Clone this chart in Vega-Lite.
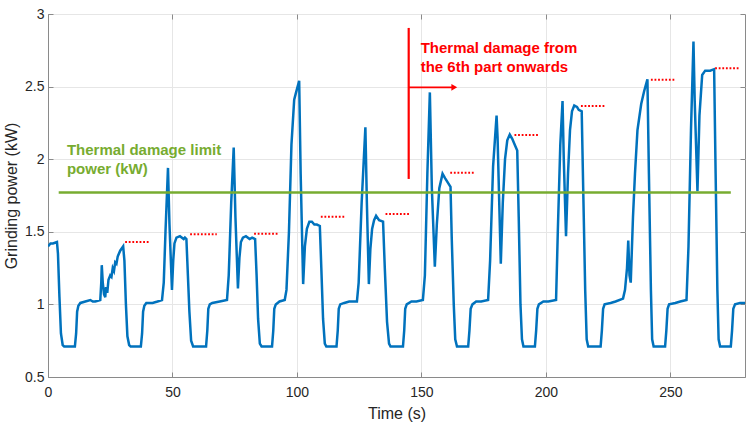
{
  "$schema": "https://vega.github.io/schema/vega-lite/v6.json",
  "width": 697,
  "height": 363,
  "autosize": {"type": "none"},
  "padding": {"left": 48, "top": 14, "right": 4, "bottom": 48},
  "background": "white",
  "config": {
    "font": "Liberation Sans",
    "view": {"stroke": "#8a8a8a", "strokeWidth": 1},
    "axis": {
      "labelFont": "Liberation Sans",
      "titleFont": "Liberation Sans",
      "labelFontSize": 14,
      "titleFontSize": 16,
      "titleFontWeight": "normal",
      "labelColor": "#262626",
      "titleColor": "#262626",
      "domainColor": "#8a8a8a",
      "tickColor": "#8a8a8a",
      "gridColor": "#e6e6e6",
      "gridWidth": 1
    }
  },
  "datasets": {
    "power": [
      {"t": 0, "p": 1.40}, {"t": 1, "p": 1.42}, {"t": 2, "p": 1.42}, {"t": 3.6, "p": 1.43},
      {"t": 4.0, "p": 1.35}, {"t": 4.6, "p": 1.05}, {"t": 5.2, "p": 0.80}, {"t": 5.9, "p": 0.72},
      {"t": 6.5, "p": 0.71}, {"t": 10.8, "p": 0.71}, {"t": 11.3, "p": 0.80}, {"t": 11.7, "p": 0.95},
      {"t": 12.2, "p": 0.99}, {"t": 13, "p": 1.01}, {"t": 15, "p": 1.02}, {"t": 17, "p": 1.03},
      {"t": 18, "p": 1.02}, {"t": 19, "p": 1.02}, {"t": 21, "p": 1.03}, {"t": 21.4, "p": 1.15},
      {"t": 21.6, "p": 1.27}, {"t": 22.0, "p": 1.15}, {"t": 22.5, "p": 1.07}, {"t": 23.0, "p": 1.05},
      {"t": 23.3, "p": 1.12}, {"t": 23.8, "p": 1.08}, {"t": 24.3, "p": 1.17}, {"t": 25.0, "p": 1.20},
      {"t": 25.5, "p": 1.19}, {"t": 26.0, "p": 1.25}, {"t": 26.5, "p": 1.23}, {"t": 27, "p": 1.29},
      {"t": 27.5, "p": 1.28}, {"t": 28, "p": 1.33}, {"t": 29, "p": 1.37}, {"t": 30.2, "p": 1.40},
      {"t": 30.7, "p": 1.30}, {"t": 31.3, "p": 1.00}, {"t": 31.9, "p": 0.78}, {"t": 32.6, "p": 0.72},
      {"t": 33.2, "p": 0.71}, {"t": 37.3, "p": 0.71}, {"t": 37.8, "p": 0.80}, {"t": 38.2, "p": 0.95},
      {"t": 38.7, "p": 0.99}, {"t": 39.5, "p": 1.01}, {"t": 42, "p": 1.01}, {"t": 44, "p": 1.02},
      {"t": 45.8, "p": 1.03}, {"t": 46.5, "p": 1.15}, {"t": 47.2, "p": 1.50}, {"t": 48.2, "p": 1.94},
      {"t": 48.8, "p": 1.55}, {"t": 49.8, "p": 1.10}, {"t": 50.3, "p": 1.30}, {"t": 50.8, "p": 1.42},
      {"t": 51.6, "p": 1.46}, {"t": 53, "p": 1.47}, {"t": 54.5, "p": 1.45}, {"t": 55.0, "p": 1.46},
      {"t": 55.6, "p": 1.45}, {"t": 56.2, "p": 1.20}, {"t": 56.8, "p": 0.95}, {"t": 57.5, "p": 0.75},
      {"t": 58.3, "p": 0.71}, {"t": 63.5, "p": 0.71}, {"t": 64, "p": 0.82}, {"t": 64.4, "p": 0.97},
      {"t": 65, "p": 1.00}, {"t": 66, "p": 1.01}, {"t": 69, "p": 1.02}, {"t": 71.9, "p": 1.03},
      {"t": 72.6, "p": 1.20}, {"t": 73.6, "p": 1.70}, {"t": 74.6, "p": 2.08}, {"t": 75.3, "p": 1.60},
      {"t": 76.3, "p": 1.11}, {"t": 76.9, "p": 1.32}, {"t": 77.5, "p": 1.43}, {"t": 78.3, "p": 1.46},
      {"t": 79.5, "p": 1.47}, {"t": 81, "p": 1.45}, {"t": 82, "p": 1.46}, {"t": 83.2, "p": 1.45},
      {"t": 83.8, "p": 1.20}, {"t": 84.4, "p": 0.90}, {"t": 85.1, "p": 0.73}, {"t": 85.8, "p": 0.71},
      {"t": 90, "p": 0.71}, {"t": 90.5, "p": 0.82}, {"t": 90.9, "p": 0.97}, {"t": 91.5, "p": 1.00},
      {"t": 93, "p": 1.02}, {"t": 95.1, "p": 1.03}, {"t": 95.8, "p": 1.10}, {"t": 96.8, "p": 1.50},
      {"t": 97.8, "p": 2.10}, {"t": 98.9, "p": 2.41}, {"t": 99.5, "p": 2.45}, {"t": 100.9, "p": 2.54},
      {"t": 101.5, "p": 1.90}, {"t": 102.5, "p": 1.14}, {"t": 103.2, "p": 1.40}, {"t": 104, "p": 1.52},
      {"t": 105, "p": 1.57}, {"t": 106, "p": 1.57}, {"t": 107, "p": 1.55}, {"t": 108, "p": 1.55},
      {"t": 109.2, "p": 1.54}, {"t": 109.8, "p": 1.25}, {"t": 110.5, "p": 0.90}, {"t": 111.2, "p": 0.73},
      {"t": 111.8, "p": 0.71}, {"t": 115.9, "p": 0.71}, {"t": 116.4, "p": 0.82}, {"t": 116.8, "p": 0.97},
      {"t": 117.4, "p": 1.00}, {"t": 119, "p": 1.01}, {"t": 121, "p": 1.02}, {"t": 124.1, "p": 1.02},
      {"t": 124.8, "p": 1.15}, {"t": 126, "p": 1.70}, {"t": 127.5, "p": 2.22}, {"t": 128.1, "p": 1.70},
      {"t": 128.9, "p": 1.14}, {"t": 129.5, "p": 1.38}, {"t": 130.2, "p": 1.52}, {"t": 131, "p": 1.58},
      {"t": 131.8, "p": 1.61}, {"t": 133, "p": 1.58}, {"t": 134.6, "p": 1.57}, {"t": 135.3, "p": 1.25},
      {"t": 136.2, "p": 0.88}, {"t": 137, "p": 0.73}, {"t": 137.6, "p": 0.71}, {"t": 142.6, "p": 0.71},
      {"t": 143.1, "p": 0.82}, {"t": 143.5, "p": 0.97}, {"t": 144.1, "p": 1.00}, {"t": 146, "p": 1.02},
      {"t": 148, "p": 1.02}, {"t": 150.6, "p": 1.03}, {"t": 151.4, "p": 1.20}, {"t": 152.4, "p": 1.90},
      {"t": 153.4, "p": 2.46}, {"t": 154.2, "p": 1.80}, {"t": 155.4, "p": 1.26}, {"t": 156.2, "p": 1.55},
      {"t": 157.2, "p": 1.80}, {"t": 158.5, "p": 1.90}, {"t": 159.5, "p": 1.87}, {"t": 161.7, "p": 1.81},
      {"t": 162.2, "p": 1.45}, {"t": 163, "p": 1.00}, {"t": 163.6, "p": 0.76}, {"t": 164.3, "p": 0.71},
      {"t": 168.8, "p": 0.71}, {"t": 169.3, "p": 0.82}, {"t": 169.8, "p": 0.97}, {"t": 170.5, "p": 1.00},
      {"t": 172, "p": 1.02}, {"t": 174, "p": 1.02}, {"t": 176.8, "p": 1.03}, {"t": 177.6, "p": 1.30},
      {"t": 178.8, "p": 1.95}, {"t": 180.2, "p": 2.30}, {"t": 180.6, "p": 2.15}, {"t": 181.9, "p": 1.28},
      {"t": 182.7, "p": 1.70}, {"t": 183.6, "p": 2.00}, {"t": 184.5, "p": 2.13}, {"t": 185.5, "p": 2.17},
      {"t": 186.5, "p": 2.14}, {"t": 187.5, "p": 2.10}, {"t": 188.5, "p": 2.06}, {"t": 189.1, "p": 1.60},
      {"t": 189.8, "p": 1.00}, {"t": 190.4, "p": 0.76}, {"t": 191, "p": 0.71}, {"t": 195.6, "p": 0.71},
      {"t": 196.1, "p": 0.82}, {"t": 196.6, "p": 0.97}, {"t": 197.2, "p": 1.00}, {"t": 199, "p": 1.02},
      {"t": 201, "p": 1.02}, {"t": 204.1, "p": 1.03}, {"t": 204.8, "p": 1.50}, {"t": 205.8, "p": 2.10},
      {"t": 206.7, "p": 2.40}, {"t": 207.2, "p": 2.00}, {"t": 208.1, "p": 1.47}, {"t": 208.9, "p": 1.90},
      {"t": 209.7, "p": 2.20}, {"t": 210.5, "p": 2.33}, {"t": 211.4, "p": 2.37}, {"t": 212.5, "p": 2.36},
      {"t": 213.2, "p": 2.34}, {"t": 214.4, "p": 2.33}, {"t": 215, "p": 1.80}, {"t": 215.8, "p": 1.10},
      {"t": 216.4, "p": 0.76}, {"t": 217, "p": 0.71}, {"t": 222, "p": 0.71}, {"t": 222.5, "p": 0.82},
      {"t": 223, "p": 0.97}, {"t": 223.6, "p": 1.00}, {"t": 226, "p": 1.01}, {"t": 228, "p": 1.02},
      {"t": 231, "p": 1.04}, {"t": 231.8, "p": 1.10}, {"t": 232.6, "p": 1.25}, {"t": 233.1, "p": 1.44},
      {"t": 233.6, "p": 1.20}, {"t": 234.1, "p": 1.15}, {"t": 234.5, "p": 1.35}, {"t": 235, "p": 1.60},
      {"t": 235.8, "p": 1.90}, {"t": 236.8, "p": 2.20}, {"t": 238.3, "p": 2.38}, {"t": 239.5, "p": 2.47},
      {"t": 240.8, "p": 2.55}, {"t": 241.4, "p": 1.90}, {"t": 242.2, "p": 1.10}, {"t": 242.7, "p": 0.76},
      {"t": 243.3, "p": 0.71}, {"t": 247.9, "p": 0.71}, {"t": 248.4, "p": 0.82}, {"t": 248.9, "p": 0.97},
      {"t": 249.5, "p": 1.00}, {"t": 252, "p": 1.01}, {"t": 254, "p": 1.02}, {"t": 256.5, "p": 1.03},
      {"t": 257.3, "p": 1.40}, {"t": 258.3, "p": 2.20}, {"t": 259.3, "p": 2.81}, {"t": 259.8, "p": 2.40},
      {"t": 260.9, "p": 1.78}, {"t": 261.7, "p": 2.30}, {"t": 262.8, "p": 2.58}, {"t": 264, "p": 2.61},
      {"t": 266, "p": 2.61}, {"t": 267.6, "p": 2.62}, {"t": 268.2, "p": 1.90}, {"t": 268.9, "p": 1.10},
      {"t": 269.4, "p": 0.76}, {"t": 270, "p": 0.71}, {"t": 274.3, "p": 0.71}, {"t": 274.8, "p": 0.82},
      {"t": 275.3, "p": 0.97}, {"t": 276, "p": 1.00}, {"t": 278, "p": 1.01}, {"t": 280, "p": 1.01}
    ],
    "limit": [{"t1": 4.3, "t2": 274.3, "p": 1.77}],
    "levels": [
      {"t1": 31.0, "t2": 41.1, "p": 1.43},
      {"t1": 57.1, "t2": 67.8, "p": 1.483},
      {"t1": 82.8, "t2": 92.7, "p": 1.487},
      {"t1": 109.6, "t2": 119.5, "p": 1.604},
      {"t1": 135.6, "t2": 145.5, "p": 1.623},
      {"t1": 161.6, "t2": 171.5, "p": 1.907},
      {"t1": 187.4, "t2": 197.4, "p": 2.167},
      {"t1": 214.1, "t2": 224.1, "p": 2.366},
      {"t1": 242.2, "t2": 252.2, "p": 2.548},
      {"t1": 268.0, "t2": 277.9, "p": 2.626}
    ],
    "vline": [{"t": 144.9, "p1": 1.864, "p2": 2.904}],
    "arrow": [{"t1": 144.9, "t2": 162.5, "p": 2.495}],
    "arrowhead": [{"t": 163.2, "p": 2.495}],
    "greenText": [
      {"t": 7.6, "p": 2.027, "label": "Thermal damage limit"},
      {"t": 7.6, "p": 1.90, "label": "power (kW)"}
    ],
    "redText": [
      {"t": 149.7, "p": 2.729, "label": "Thermal damage from"},
      {"t": 149.7, "p": 2.603, "label": "the 6th part onwards"}
    ]
  },
  "resolve": {"axis": {"x": "independent", "y": "independent"}},
  "layer": [
    {
      "data": {"name": "power"},
      "mark": {"type": "line", "color": "#0072BD", "strokeWidth": 2.5, "clip": true},
      "encoding": {
        "x": {
          "field": "t", "type": "quantitative",
          "scale": {"domain": [0, 280], "nice": false, "zero": false},
          "axis": {
            "orient": "bottom", "title": "Time (s)", "values": [0, 50, 100, 150, 200, 250],
            "grid": true, "tickSize": -5, "labelPadding": 13, "titlePadding": 6, "labelFlush": false
          }
        },
        "y": {
          "field": "p", "type": "quantitative",
          "scale": {"domain": [0.5, 3], "nice": false, "zero": false},
          "axis": {
            "orient": "left", "title": "Grinding power (kW)", "values": [0.5, 1, 1.5, 2, 2.5, 3],
            "format": "~g", "grid": true, "tickSize": -5, "labelPadding": 9, "titlePadding": 5, "labelFlush": false
          }
        }
      }
    },
    {
      "data": {"name": "limit"},
      "mark": {"type": "rule", "color": "#77AC30", "strokeWidth": 2.5},
      "encoding": {
        "x": {
          "field": "t1", "type": "quantitative",
          "axis": {"orient": "top", "values": [0, 50, 100, 150, 200, 250], "labels": false, "title": null, "grid": false, "domain": false, "tickSize": -5}
        },
        "x2": {"field": "t2"},
        "y": {
          "field": "p", "type": "quantitative",
          "axis": {"orient": "right", "values": [0.5, 1, 1.5, 2, 2.5, 3], "labels": false, "title": null, "grid": false, "domain": false, "tickSize": -5}
        }
      }
    },
    {
      "data": {"name": "levels"},
      "mark": {"type": "rule", "color": "#FF0000", "strokeWidth": 2, "strokeDash": [1.8, 1.8]},
      "encoding": {
        "x": {"field": "t1", "type": "quantitative", "axis": null},
        "x2": {"field": "t2"},
        "y": {"field": "p", "type": "quantitative", "axis": null}
      }
    },
    {
      "data": {"name": "vline"},
      "mark": {"type": "rule", "color": "#FF0000", "strokeWidth": 2.2},
      "encoding": {
        "x": {"field": "t", "type": "quantitative", "axis": null},
        "y": {"field": "p1", "type": "quantitative", "axis": null},
        "y2": {"field": "p2"}
      }
    },
    {
      "data": {"name": "arrow"},
      "mark": {"type": "rule", "color": "#FF0000", "strokeWidth": 1.8},
      "encoding": {
        "x": {"field": "t1", "type": "quantitative", "axis": null},
        "x2": {"field": "t2"},
        "y": {"field": "p", "type": "quantitative", "axis": null}
      }
    },
    {
      "data": {"name": "arrowhead"},
      "mark": {"type": "point", "shape": "triangle-right", "filled": true, "color": "#FF0000", "size": 45, "opacity": 1},
      "encoding": {
        "x": {"field": "t", "type": "quantitative", "axis": null},
        "y": {"field": "p", "type": "quantitative", "axis": null}
      }
    },
    {
      "data": {"name": "greenText"},
      "mark": {"type": "text", "color": "#77AC30", "font": "Liberation Sans", "fontSize": 15, "fontWeight": "bold", "align": "left", "baseline": "alphabetic"},
      "encoding": {
        "x": {"field": "t", "type": "quantitative", "axis": null},
        "y": {"field": "p", "type": "quantitative", "axis": null},
        "text": {"field": "label"}
      }
    },
    {
      "data": {"name": "redText"},
      "mark": {"type": "text", "color": "#FF0000", "font": "Liberation Sans", "fontSize": 15, "fontWeight": "bold", "align": "left", "baseline": "alphabetic"},
      "encoding": {
        "x": {"field": "t", "type": "quantitative", "axis": null},
        "y": {"field": "p", "type": "quantitative", "axis": null},
        "text": {"field": "label"}
      }
    }
  ]
}
